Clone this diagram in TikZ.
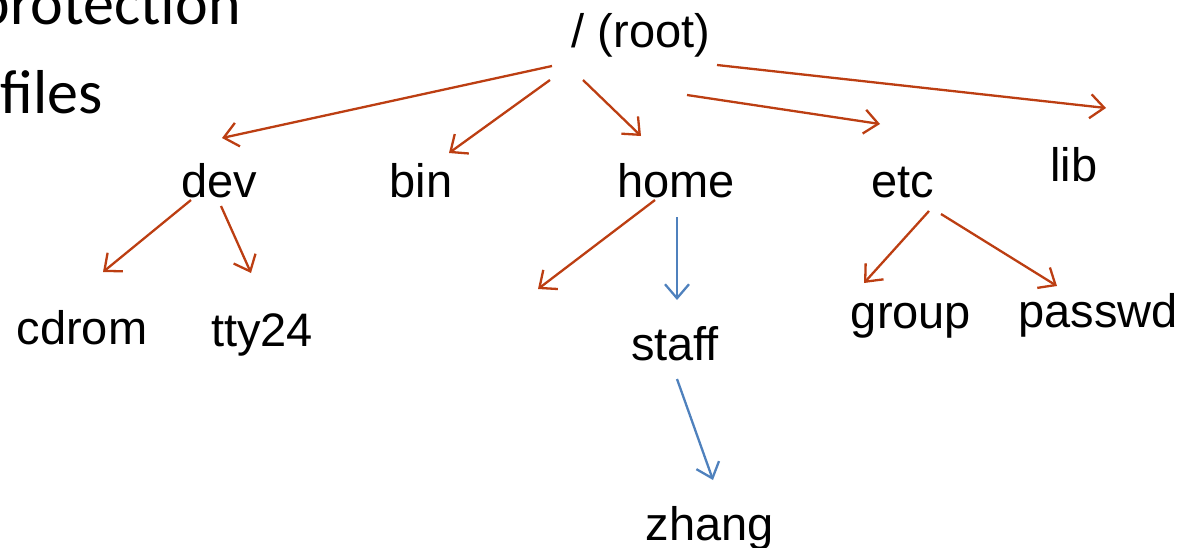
\documentclass[tikz,border=0pt]{standalone}
\usepackage{fontspec}
\setmainfont{Liberation Sans}
\newfontfamily\slidefont{Carlito}
\usetikzlibrary{arrows.meta}

\definecolor{arrowred}{RGB}{188,62,18}
\definecolor{arrowblue}{RGB}{79,129,189}

\tikzset{
  dir/.style={inner sep=0pt,anchor=base,font=\fontsize{23.5}{28}\selectfont},
  slide/.style={inner sep=0pt,font=\slidefont\fontsize{31}{36}\selectfont},
  arr/.style={draw=arrowred,line width=1.15pt,-{Straight Barb[length=7pt,width=12pt]}},
  barr/.style={arr,draw=arrowblue},
}

\begin{document}
\begin{tikzpicture}[x=0.5pt,y=-0.5pt]

\useasboundingbox (0,0) rectangle (1193,547);
\clip (0,0) rectangle (1193,547);

% text of the slide, cut off at the left
\node[slide,anchor=base east] (prot) at (241,24) {protection};
\node[slide,anchor=base west] (files) at (0,113) {files};

\node[dir] (root) at (641,47) {/ (root)};

\node[dir] (dev) at (219,197) {dev};
\node[dir] (bin) at (421,197) {bin};
\node[dir] (home) at (676,197) {home};
\node[dir] (etc) at (903,197) {etc};
\node[dir] (lib) at (1074,181) {lib};

\node[dir] (cdrom) at (82,344) {cdrom};
\node[dir] (tty) at (262,346) {tty24};
\node[dir] (staff) at (675,360) {staff};
\node[dir] (group) at (911,328) {group};
\node[dir] (passwd) at (1098,327) {passwd};
\node[dir] (zhang) at (710,540) {zhang};

\coordinate (homeleft) at (538,289);

\draw[arr] ([shift={(-89,19)}]root.base) -- ([shift={(3,-59)}]dev.base);
\draw[arr] ([shift={(-91,33)}]root.base) -- ([shift={(28,-44)}]bin.base);
\draw[arr] ([shift={(-58,33)}]root.base) -- ([shift={(-35,-61)}]home.base);
\draw[arr] ([shift={(46,48)}]root.base) -- ([shift={(-23,-73)}]etc.base);
\draw[arr] ([shift={(76,18)}]root.base) -- ([shift={(32,-73)}]lib.base);

\draw[arr] ([shift={(-28,3)}]dev.base) -- ([shift={(21,-72)}]cdrom.base);
\draw[arr] ([shift={(2,9)}]dev.base) -- ([shift={(-11,-73)}]tty.base);

\draw[arr] ([shift={(-21,3)}]home.base) -- (homeleft);
\draw[barr] ([shift={(1,20)}]home.base) -- ([shift={(2,-60)}]staff.base);
\draw[barr] ([shift={(2,19)}]staff.base) -- ([shift={(3,-60)}]zhang.base);

\draw[arr] ([shift={(26,14)}]etc.base) -- ([shift={(-47,-45)}]group.base);
\draw[arr] ([shift={(38,17)}]etc.base) -- ([shift={(-41,-41)}]passwd.base);

\end{tikzpicture}
\end{document}
